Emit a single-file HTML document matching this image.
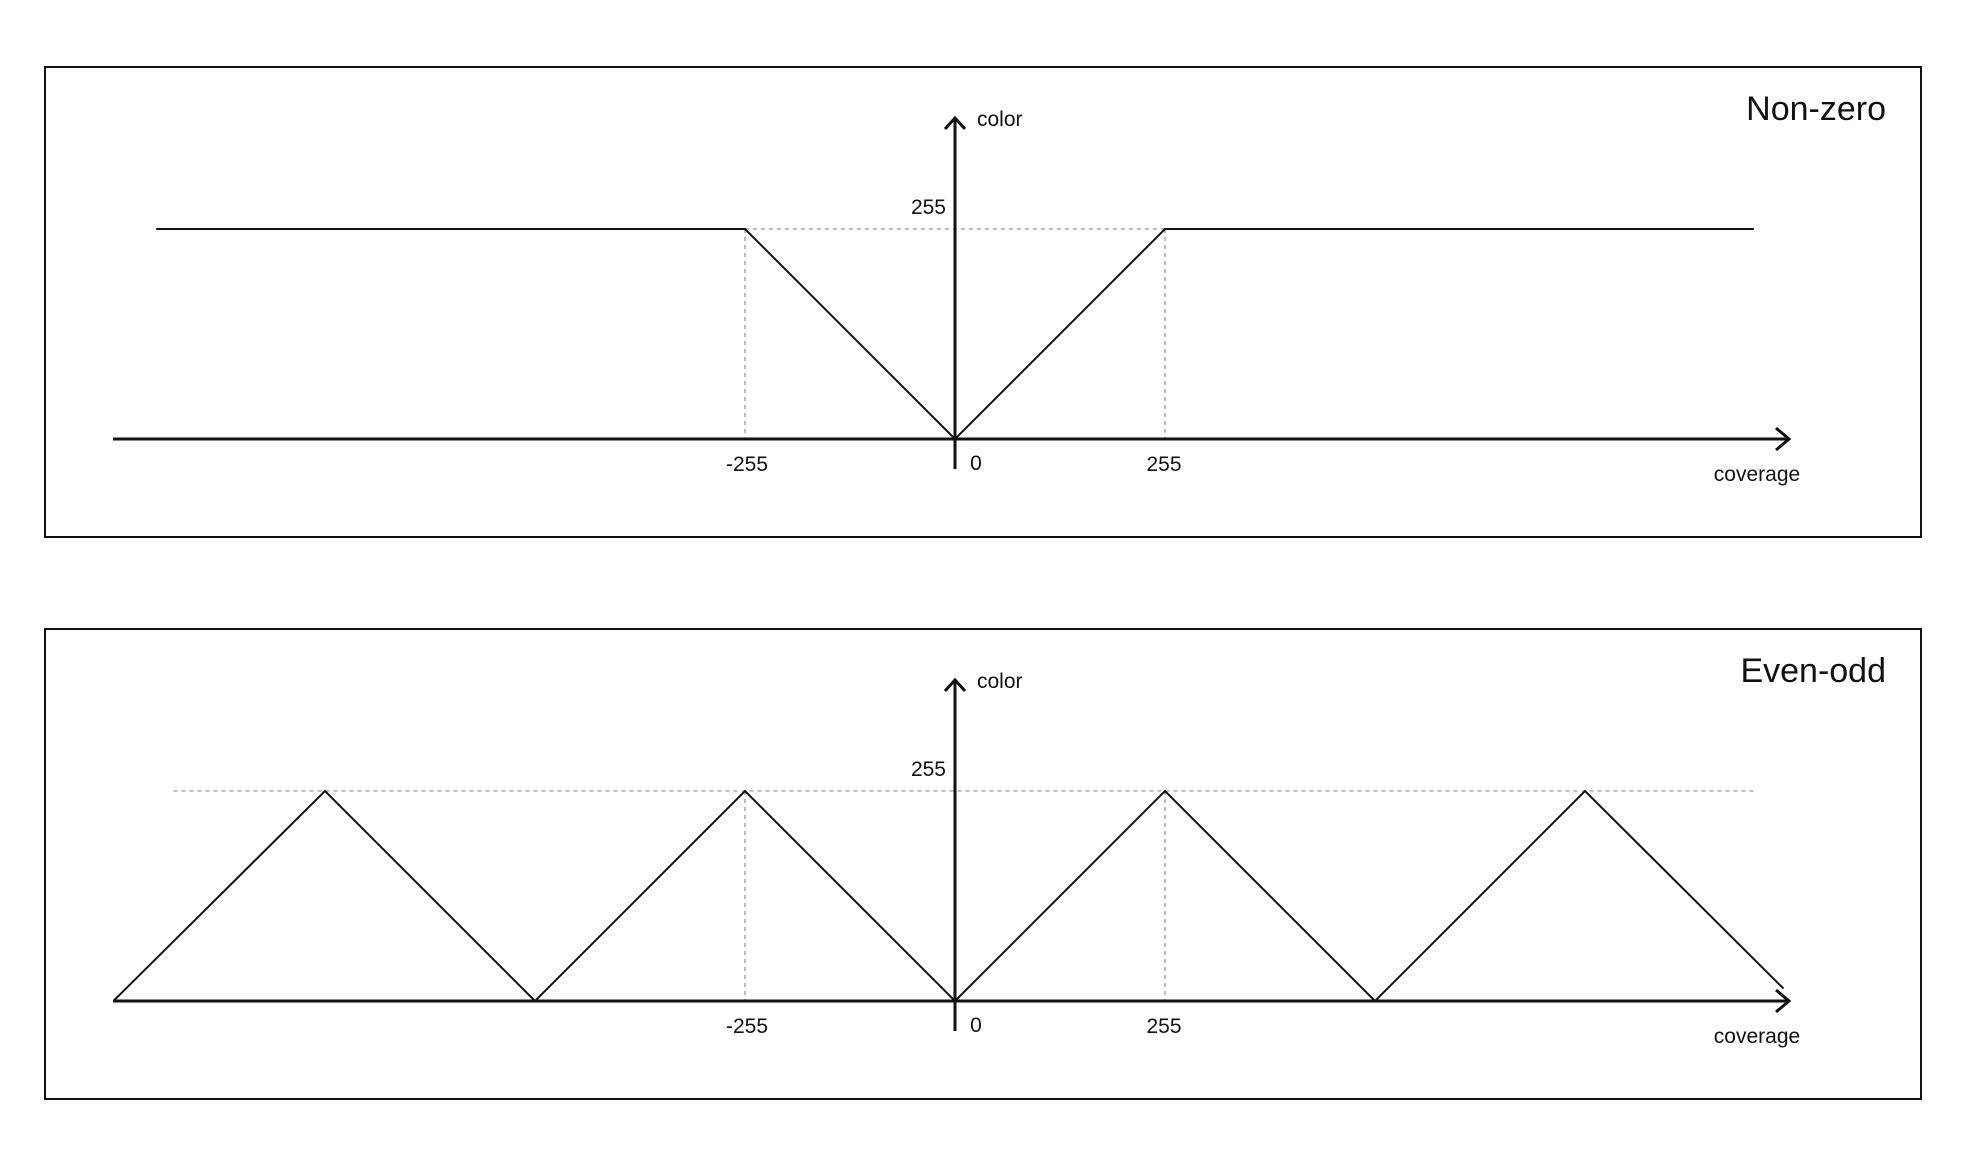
<!DOCTYPE html>
<html><head><meta charset="utf-8"><style>
html,body{margin:0;padding:0;background:#fff;}
svg{display:block;font-family:"Liberation Sans",sans-serif;}
</style></head><body>
<svg id="chart" width="1966" height="1170" viewBox="0 0 1966 1170" xmlns="http://www.w3.org/2000/svg"></svg>
<script>
// data
const panelTitles = ["Non-zero", "Even-odd"];
const xTickValues = [-255, 0, 255];
const yTickValues = [255];
const nonZeroX = [-970, -255, 0, 255, 970];
const nonZeroY = [255, 255, 0, 255, 255];
const evenOddX = [-1022, -765, -510, -255, 0, 255, 510, 765, 1006];
const evenOddY = [0, 255, 0, 255, 0, 255, 0, 255, 15];
const guideXRange = [[-255, 255], [-949, 971]];

const NS = "http://www.w3.org/2000/svg";
const svg = document.getElementById("chart");
const OX = 955, UNIT = 210 / 255;
function sx(v) { return OX + v * UNIT; }
function mk(tag, attrs, parent) {
  const e = document.createElementNS(NS, tag);
  for (const k in attrs) e.setAttribute(k, attrs[k]);
  (parent || svg).appendChild(e);
  return e;
}
function txt(x, y, s, size, anchor, parent) {
  const t = mk("text", {x: x, y: y, "font-size": size, "text-anchor": anchor, fill: "#111"}, parent);
  t.textContent = s;
  return t;
}

[0, 1].forEach(function (p) {
  const off = p * 562;
  const baseY = 439 + off;
  function sy(v) { return baseY - v * UNIT; }
  const g = mk("g", {});
  
  

  const fr = mk("rect", {x: 45, y: 67 + off, width: 1876, height: 470, fill: "none", stroke: "#111", "stroke-width": 2}, g);
  
  

  const gr = guideXRange[p];
  const hg = mk("line", {x1: sx(gr[0]), x2: sx(gr[1]), y1: sy(255), y2: sy(255), stroke: "#999", "stroke-width": 1.3, "stroke-dasharray": "4 4"}, g);
  
  
  [-255, 255].forEach(function (v) {
    const vg = mk("line", {x1: sx(v), x2: sx(v), y1: sy(255), y2: baseY, stroke: "#999", "stroke-width": 1.3, "stroke-dasharray": "4 4"}, g);
    
    
  });

  const xs = p === 0 ? nonZeroX : evenOddX;
  const ys = p === 0 ? nonZeroY : evenOddY;
  const pts = xs.map(function (x, i) { return sx(x).toFixed(1) + "," + sy(ys[i]).toFixed(1); }).join(" ");
  const line = mk("polyline", {points: pts, fill: "none", stroke: "#111", "stroke-width": 2}, g);
  
  

  const xa = mk("line", {x1: 113, x2: 1789, y1: baseY, y2: baseY, stroke: "#111", "stroke-width": 3}, g);
  
  
  const xar = mk("polyline", {points: (1776) + "," + (baseY - 11) + " 1789," + baseY + " 1776," + (baseY + 11), fill: "none", stroke: "#111", "stroke-width": 3}, g);
  
  
  const ya = mk("line", {x1: OX, x2: OX, y1: 118 + off, y2: 469 + off, stroke: "#111", "stroke-width": 3}, g);
  
  
  const yar = mk("polyline", {points: (OX - 10) + "," + (129 + off) + " " + OX + "," + (118 + off) + " " + (OX + 10) + "," + (129 + off), fill: "none", stroke: "#111", "stroke-width": 3}, g);
  
  

  const t = txt(1886, 120 + off, panelTitles[p], 34, "end", g);
  
  
  const yl = txt(977, 126 + off, "color", 21, "start", g);
  
  
  const xl = txt(1757, 481 + off, "coverage", 21, "middle", g);
  
  
  yTickValues.forEach(function (v) {
    const l = txt(946, sy(v) - 15, String(v), 21, "end", g);
    
    
  });
  xTickValues.forEach(function (v) {
    const l = v === 0 ? txt(976, 470 + off, "0", 21, "middle", g) : txt(sx(v) + (v < 0 ? 2 : -1), 471 + off, String(v), 21, "middle", g);
    
    
  });
});
</script>
</body></html>
